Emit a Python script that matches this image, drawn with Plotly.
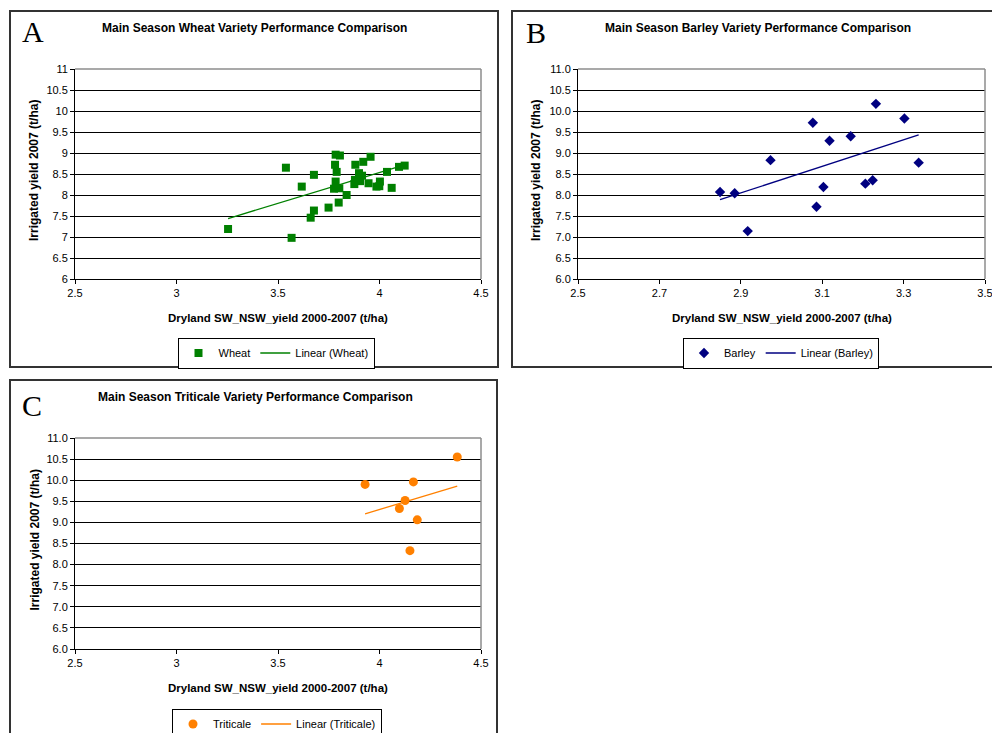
import numpy as np
import plotly.graph_objects as go

OFF = 0
W, H = 992, 733

# ---------------- data ----------------
wheat_x = [3.254, 3.539, 3.677, 3.617, 3.567, 3.661, 3.677, 3.749, 3.799, 3.838,
           3.784, 3.805, 3.781, 3.789, 3.784, 3.776, 3.802, 3.881, 3.920, 3.956,
           3.899, 3.914, 3.879, 3.904, 3.876, 3.946, 3.985, 4.002, 3.999, 4.037,
           4.060, 4.096, 4.124]
wheat_y = [7.19, 8.65, 8.48, 8.20, 6.98, 7.46, 7.63, 7.70, 7.82, 8.00,
           8.96, 8.94, 8.72, 8.55, 8.32, 8.15, 8.16, 8.72, 8.79, 8.91,
           8.52, 8.46, 8.36, 8.33, 8.26, 8.28, 8.20, 8.32, 8.21, 8.55,
           8.17, 8.67, 8.70]

barley_x = [2.849, 2.885, 2.917, 2.973, 3.077, 3.086, 3.103, 3.118, 3.170, 3.206,
            3.224, 3.232, 3.302, 3.337]
barley_y = [8.07, 8.04, 7.14, 8.83, 9.72, 7.72, 8.19, 9.29, 9.40, 8.27,
            8.35, 10.17, 9.82, 8.77]

triticale_x = [4.383, 3.929, 4.167, 4.126, 4.098, 4.186, 4.150]
triticale_y = [10.55, 9.90, 9.96, 9.52, 9.33, 9.06, 8.33]

titles = ["Main Season Wheat Variety Performance Comparison",
          "Main Season Barley Variety Performance Comparison",
          "Main Season Triticale Variety Performance Comparison"]
panel_letters = ["A", "B", "C"]
x_title = "Dryland SW_NSW_yield 2000-2007 (t/ha)"
y_title = "Irrigated yield 2007 (t/ha)"
names = ["Wheat", "Barley", "Triticale"]
colors = ["#008000", "#000080", "#FF8000"]
symbols = ["square", "diamond", "circle"]
marker_sizes = [8, 8, 9]

# ---------------- layout geometry (screen pixels) ----------------
def px(x):
    return (x - OFF) / W

def py(y):
    return 1 - (y - OFF) / H

panels = [
    dict(plot=(75, 481, 69, 279), box=(10, 498, 11, 367), xr=[2.5, 4.5], dx=0.5, yfmt="",
         title_x=254, title_y=28, letter=(33, 31), xt_y=318, yt_x=34, legend=(276, 353)),
    dict(plot=(578, 985, 69, 279), box=(512, 1000, 11, 367), xr=[2.5, 3.5], dx=0.2, yfmt=".1f",
         title_x=758, title_y=28, letter=(536, 33), xt_y=318, yt_x=536, legend=(781, 353)),
    dict(plot=(75, 481, 438, 649), box=(10, 497, 380, 745), xr=[2.5, 4.5], dx=0.5, yfmt=".1f",
         title_x=255, title_y=397, letter=(32, 405), xt_y=688, yt_x=34, legend=(277, 724)),
]

datasets = [(wheat_x, wheat_y), (barley_x, barley_y), (triticale_x, triticale_y)]

FONT = "Liberation Sans, Arial, sans-serif"
fig = go.Figure()
shapes = []
annotations = []
layout_axes = {}

for i, (p, (xs, ys)) in enumerate(zip(panels, datasets)):
    n = "" if i == 0 else str(i + 1)
    xa, ya = "x" + n, "y" + n
    leg = "legend" if i == 0 else "legend" + str(i + 1)
    fig.add_trace(go.Scatter(
        x=xs, y=ys, mode="markers", name=names[i], xaxis=xa, yaxis=ya, legend=leg,
        marker=dict(symbol=symbols[i], size=marker_sizes[i], color=colors[i]),
    ))
    k, b = np.polyfit(xs, ys, 1)
    tx = np.array([min(xs), max(xs)])
    fig.add_trace(go.Scatter(
        x=tx, y=k * tx + b, mode="lines", name="Linear (%s)" % names[i],
        xaxis=xa, yaxis=ya, legend=leg, line=dict(color=colors[i], width=1.3),
    ))
    l, r, t, bt = p["plot"]
    layout_axes["xaxis" + n] = dict(
        domain=[px(l), px(r)], range=p["xr"], dtick=p["dx"], tick0=2.5,
        showgrid=False, zeroline=False, showline=True, linecolor="black", linewidth=1,
        ticks="outside", ticklen=4, tickcolor="black", ticklabeloverflow="allow",
        tickfont=dict(family=FONT, size=11, color="black"), anchor=ya,
    )
    layout_axes["yaxis" + n] = dict(
        domain=[py(bt), py(t)], range=[6, 11], dtick=0.5, tick0=6, tickformat=p["yfmt"],
        showgrid=True, gridcolor="black", gridwidth=1, zeroline=False,
        showline=True, linecolor="black", linewidth=1,
        ticks="outside", ticklen=4, tickcolor="black", ticklabeloverflow="allow",
        tickfont=dict(family=FONT, size=11, color="black"), anchor=xa,
    )
    # gray top/right border of plot area
    shapes.append(dict(type="line", xref="paper", yref="paper", x0=px(l), x1=px(r),
                       y0=py(t), y1=py(t), line=dict(color="#8c8c8c", width=1.5), layer="above"))
    shapes.append(dict(type="line", xref="paper", yref="paper", x0=px(r), x1=px(r),
                       y0=py(t), y1=py(bt), line=dict(color="#8c8c8c", width=1.5), layer="above"))
    # outer chart box
    bl, br, btp, bb = p["box"]
    shapes.append(dict(type="rect", xref="paper", yref="paper", x0=px(bl), x1=px(br),
                       y0=py(bb), y1=py(btp), line=dict(color="#333333", width=2), layer="below"))
    # title
    annotations.append(dict(text="<b>%s</b>" % titles[i], xref="paper", yref="paper",
                            x=px(p["title_x"]), y=py(p["title_y"]), showarrow=False,
                            xanchor="center", yanchor="middle",
                            font=dict(family=FONT, size=12, color="black")))
    # panel letter
    annotations.append(dict(text=panel_letters[i], xref="paper", yref="paper",
                            x=px(p["letter"][0]), y=py(p["letter"][1]), showarrow=False,
                            xanchor="center", yanchor="middle",
                            font=dict(family="Liberation Serif, Times New Roman, serif", size=30, color="black")))
    # x axis title
    annotations.append(dict(text="<b>%s</b>" % x_title, xref="paper", yref="paper",
                            x=px((l + r) / 2), y=py(p["xt_y"]), showarrow=False,
                            xanchor="center", yanchor="middle",
                            font=dict(family=FONT, size=11.5, color="black")))
    # y axis title
    annotations.append(dict(text="<b>%s</b>" % y_title, xref="paper", yref="paper",
                            x=px(p["yt_x"]), y=py((t + bt) / 2 - 3), showarrow=False,
                            textangle=-90, xanchor="center", yanchor="middle",
                            font=dict(family=FONT, size=12, color="black")))
    layout_axes[leg] = dict(
        orientation="h", x=px(p["legend"][0]), y=py(p["legend"][1]),
        xanchor="center", yanchor="middle", bordercolor="black", borderwidth=1,
        bgcolor="white", font=dict(family=FONT, size=11, color="black"),
        itemwidth=30, tracegroupgap=0,
    )

fig.update_layout(
    width=W, height=H,
    margin=dict(l=0, r=0, t=0, b=0, pad=0, autoexpand=False),
    paper_bgcolor="white", plot_bgcolor="white",
    shapes=shapes, annotations=annotations,
    showlegend=True,
    **layout_axes,
)

fig.write_html(
    "out.html",
    config={"displayModeBar": False},
    post_script=("document.body.style.margin='0';document.body.style.padding='0';"
                 "document.documentElement.style.overflow='hidden';"
                 "document.body.style.overflow='hidden';"),
)
